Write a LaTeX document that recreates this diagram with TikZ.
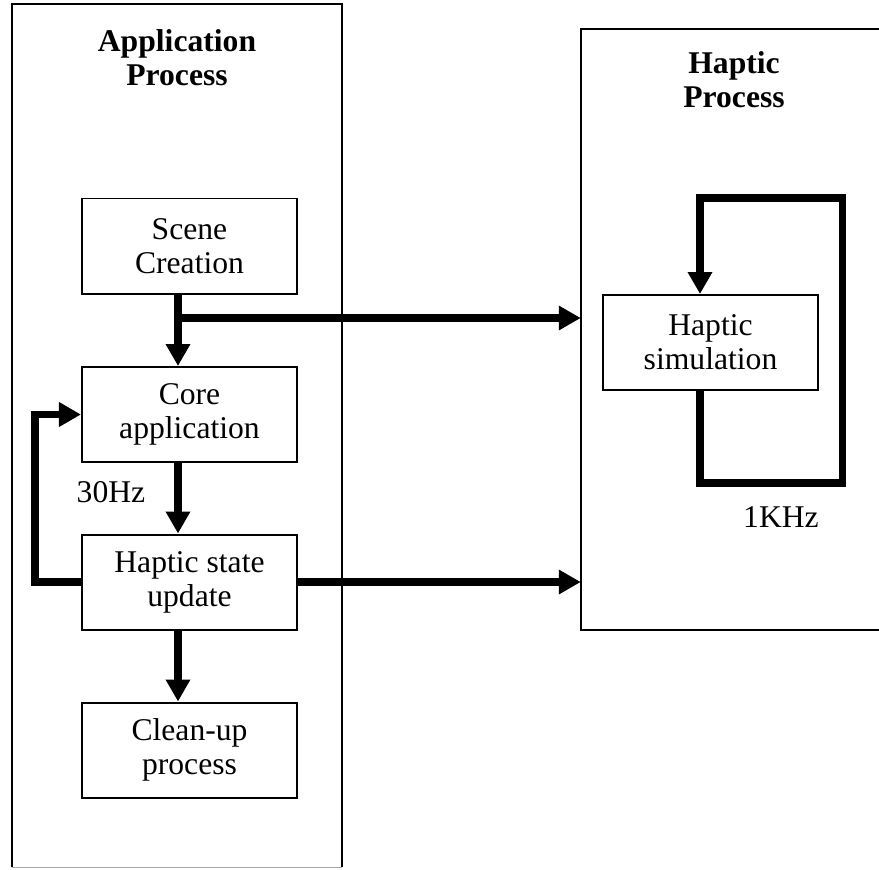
\documentclass[tikz,border=0pt]{standalone}
\usepackage{fontspec}
\setmainfont{Liberation Serif}
\usetikzlibrary{arrows.meta,calc}
\begin{document}
\begin{tikzpicture}[x=0.03cm,y=-0.03cm,
  every node/.style={font=\fontsize{27}{29}\selectfont},
  stage/.style={draw, line width=1.7pt, minimum width=6.45cm, minimum height=2.85cm, align=center, inner sep=0pt},
  lane/.style={inner sep=0pt},
  heading/.style={align=center, font=\fontsize{27}{29}\selectfont\bfseries},
  flow/.style={line width=6pt, line join=miter, -{Triangle[length=0.66cm,width=0.7cm]}},
  rim/.style={line width=1.7pt},
]
\useasboundingbox (0,0) rectangle (879,869);

% process lanes
\node[lane, minimum width=9.9cm, minimum height=25.89cm] (applane) at (177,435.5) {};
\node[lane, minimum width=9.09cm, minimum height=18.03cm] (haplane) at (732.5,329.5) {};
\draw[rim] (applane.south west) -- (applane.north west) -- (applane.north east) -- (applane.south east);
\draw[gray!70, line width=1.2pt] (applane.south west) -- (applane.south east);
\draw[rim] (haplane.north east) -- (haplane.north west) -- (haplane.south west) -- (haplane.south east);

\node[heading] (apptitle) at (177,58) {Application\\Process};
\node[heading] (haptitle) at (734,80) {Haptic\\Process};

% stages
\node[stage] (scene) at (189.5,246) {Scene\\Creation};
\node[stage] (core) at (189.5,414.5) {Core\\application};
\node[stage] (hsu) at (189.5,582) {Haptic state\\update};
\node[stage] (clean) at (189.5,750) {Clean-up\\process};
\node[stage] (hsim) at (710.5,342.5) {Haptic\\simulation};

% routing points
\coordinate (acol) at (178,0);
\coordinate (branch) at (178,318);
\coordinate (lx) at (35,0);
\coordinate (hcol) at (700,0);
\coordinate (lbot) at (0,483);
\coordinate (ltop) at (0,198);
\coordinate (rx) at (842,0);

% connectors
\draw[flow] (scene.south -| acol) -- (core.north -| acol);
\draw[flow] (core.south -| acol) -- (hsu.north -| acol);
\draw[flow] (hsu.south -| acol) -- (clean.north -| acol);
\draw[flow] (branch) -- (branch -| haplane.west);
\draw[flow] (hsu.east) -- (hsu.east -| haplane.west);
\draw[flow] (hsu.west) -- (hsu.west -| lx) -- (core.west -| lx) -- (core.west);
\draw[flow] (hsim.south -| hcol) -- (hcol |- lbot) -- (rx |- lbot) -- (rx |- ltop) -- (hcol |- ltop) -- (hsim.north -| hcol);

% rates
\node (hz30) at (111,492) {30Hz};
\node (khz) at (781,517) {1KHz};
\end{tikzpicture}
\end{document}
